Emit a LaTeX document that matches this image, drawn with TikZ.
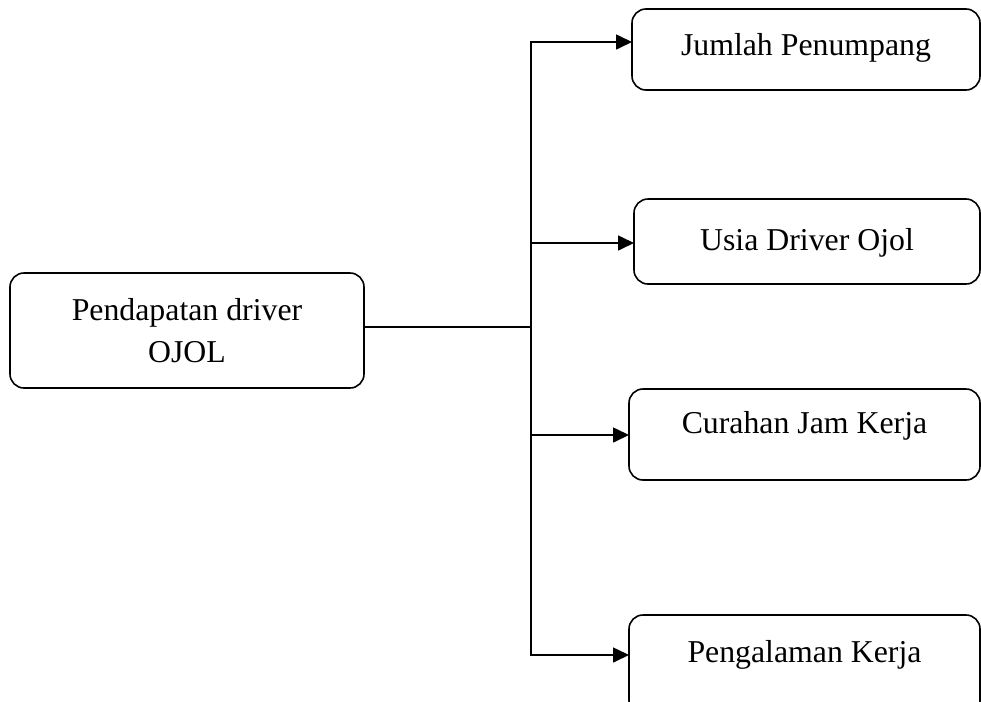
\documentclass[tikz,border=0pt]{standalone}
\usepackage{fontspec}
\setmainfont{Liberation Serif}
\usetikzlibrary{positioning, arrows.meta, calc}

\begin{document}
\begin{tikzpicture}[
  x=0.5pt, y=-0.5pt,
  font=\fontsize{15.9}{21}\selectfont,
  box/.style={draw, line width=0.8pt, rounded corners=7pt, align=center,
              inner sep=0pt, outer sep=0pt, text height=10.5pt},
  item/.style={box, minimum width=174pt},
  arr/.style={-{Triangle[length=8pt, width=7.5pt]}, line width=0.8pt}
]
\useasboundingbox (0,0) rectangle (981,702);
\node[box, minimum width=177pt, minimum height=57.5pt, text height=, text depth=]
     (src) at (187,330.5) {Pendapatan driver\\OJOL};
\node[item, minimum height=40.5pt, text depth=5pt]  (jml)   at (806,49.5)  {Jumlah Penumpang};
\node[item, minimum height=42.5pt, text depth=1.5pt, minimum width=173pt]
     (usia)  at (807,241.5) {Usia Driver Ojol};
\node[item, minimum height=45.5pt, text depth=11.5pt, minimum width=175.5pt]
     (jam)   at (804.5,434.5) {Curahan Jam Kerja};
\node[item, minimum height=50pt, text depth=13pt, minimum width=175.5pt]
     (kerja) at (804.5,665) {Pengalaman Kerja};
\coordinate (jn) at (531,327);
\draw[line width=0.8pt] (src.east |- jn) -- (jn);
\draw[arr] (jn) |- ([yshift=3.75pt]jml.west);
\draw[arr] (jn) |- ([yshift=-0.75pt]usia.west);
\draw[arr] (jn) |- ([yshift=-0.25pt]jam.west);
\draw[arr] (jn) |- ([yshift=5pt]kerja.west);
\end{tikzpicture}
\end{document}
